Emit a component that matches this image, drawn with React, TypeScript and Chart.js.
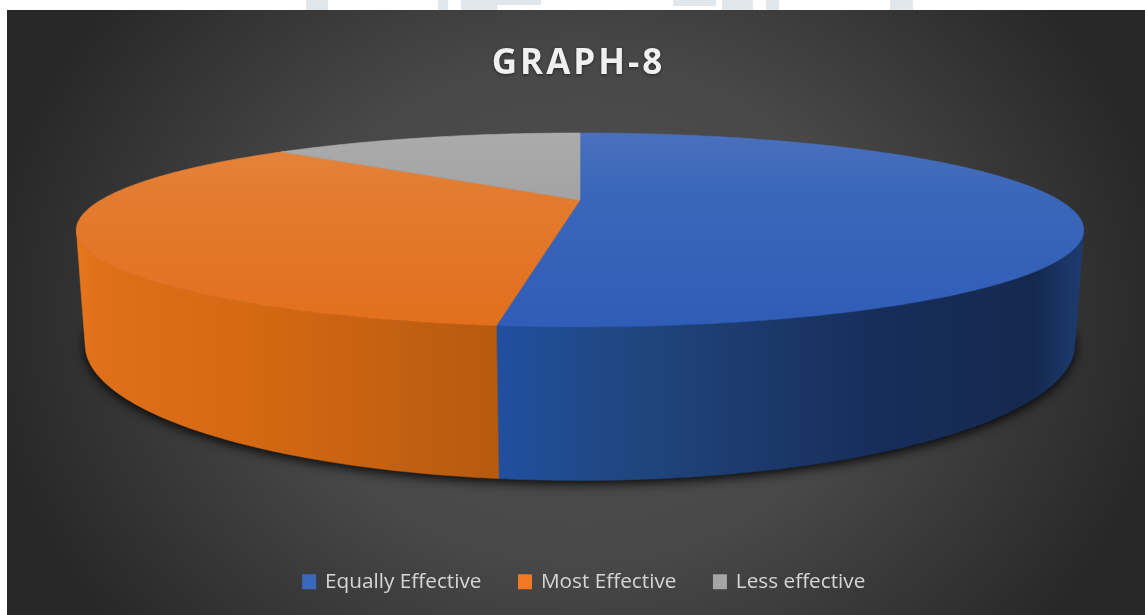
import React, { useEffect, useRef } from "react";
import { Chart, registerables } from "chart.js";

Chart.register(...registerables);

const categories = ["Equally Effective", "Most Effective", "Less effective"];
const shareValues = [51.93, 34.57, 13.5];
const legendColors = ["#3a68bd", "#f07a24", "#a5a5a5"];
const chartTitle = "GRAPH-8";

type Rim = { cx: number; cy: number; a: number; b: number; k: number };
const topRim: Rim = { cx: 580, cy: 200, a: 479, b: 87.7, k: 0.309 };
const bottomRim: Rim = { cx: 580, cy: 304, a: 472, b: 123.5, k: 0.3 };
const visibleFrom = (18 * Math.PI) / 180;
const visibleTo = (162 * Math.PI) / 180;

// faint page watermark poking out above the panel: x, width, height
const watermarkBits = [
  [306, 22, 10],
  [438, 10, 10],
  [461, 36, 10],
  [497, 44, 5],
  [673, 43, 6],
  [722, 31, 10],
  [766, 13, 10],
  [890, 23, 10],
];

function project(r: Rim, angle: number): [number, number] {
  const u = Math.cos(angle);
  const v = Math.sin(angle);
  const w = 1 - r.k * v;
  return [r.cx + (r.a * u) / w, r.cy + (r.b * v) / w];
}

function traceRim(ctx: CanvasRenderingContext2D, r: Rim, from: number, to: number, move: boolean) {
  const n = Math.max(4, Math.ceil(Math.abs(to - from) * 60));
  for (let i = 0; i <= n; i++) {
    const [x, y] = project(r, from + ((to - from) * i) / n);
    if (i === 0 && move) ctx.moveTo(x, y);
    else ctx.lineTo(x, y);
  }
}

const topShades = [
  ["#4a70bd", "#3b67ba", "#2f5db7"],
  ["#e5863f", "#e37c30", "#e26f1c"],
  ["#ababab", "#a4a4a4", "#9c9c9c"],
];

function wallGradient(ctx: CanvasRenderingContext2D, i: number) {
  const g = ctx.createLinearGradient(76, 0, 1084, 0);
  if (i === 1) {
    g.addColorStop(0, "#e8761c");
    g.addColorStop(0.02, "#e0701a");
    g.addColorStop(0.2, "#d26712");
    g.addColorStop(0.42, "#b65a10");
  } else {
    g.addColorStop(0.42, "#214f9f");
    g.addColorStop(0.55, "#20467f");
    g.addColorStop(0.8, "#172d5a");
    g.addColorStop(0.95, "#15294f");
    g.addColorStop(1, "#1e3c72");
  }
  return g;
}

const piePlugin = {
  id: "tiltedPie",
  beforeDraw(chart: any) {
    const ctx: CanvasRenderingContext2D = chart.ctx;
    ctx.save();
    ctx.fillStyle = "#ffffff";
    ctx.fillRect(0, 0, 1145, 615);
    ctx.fillStyle = "#e2e7eb";
    watermarkBits.forEach(([x, w, h]) => ctx.fillRect(x, 0, w, h));
    ctx.beginPath();
    ctx.rect(7, 10, 1138, 605);
    ctx.clip();
    ctx.translate(578, 312);
    ctx.scale(1, 0.85);
    const g = ctx.createRadialGradient(0, 0, 0, 0, 0, 590);
    g.addColorStop(0, "#505050");
    g.addColorStop(0.5, "#484848");
    g.addColorStop(1, "#282828");
    ctx.fillStyle = g;
    ctx.fillRect(-700, -700, 1400, 1400);
    ctx.restore();
  },
  afterLayout(chart: any) {
    const t = chart.titleBlock;
    if (t && !t.__spaced) {
      t.__spaced = true;
      const original = t.draw;
      t.draw = function () {
        const ctx: any = chart.ctx;
        ctx.save();
        ctx.translate(-6, 0);
        ctx.letterSpacing = "3px";
        ctx.shadowColor = "rgba(0,0,0,0.5)";
        ctx.shadowBlur = 3;
        ctx.shadowOffsetY = 1;
        original.call(t);
        ctx.restore();
      };
    }
  },
  beforeDatasetsDraw(chart: any) {
    const ctx: CanvasRenderingContext2D = chart.ctx;
    const arcs = chart.getDatasetMeta(0).data;
    ctx.save();

    ctx.save();
    ctx.shadowColor = "rgba(0,0,0,0.95)";
    ctx.shadowBlur = 12;
    ctx.shadowOffsetY = 3;
    ctx.fillStyle = "#000";
    ctx.beginPath();
    traceRim(ctx, bottomRim, 0, Math.PI * 2, true);
    ctx.closePath();
    ctx.fill();
    ctx.restore();

    arcs.forEach((arc: any, i: number) => {
      const from = Math.max(arc.startAngle, visibleFrom);
      const to = Math.min(arc.endAngle, visibleTo);
      if (to <= from) return;
      const g = wallGradient(ctx, i);
      ctx.fillStyle = g;
      ctx.strokeStyle = g;
      ctx.lineWidth = 0.6;
      ctx.beginPath();
      traceRim(ctx, topRim, from, to, true);
      traceRim(ctx, bottomRim, to, from, false);
      ctx.closePath();
      ctx.fill();
      ctx.stroke();
    });

    arcs.forEach((arc: any, i: number) => {
      const g = ctx.createLinearGradient(0, 133, 0, 327);
      g.addColorStop(0, topShades[i][0]);
      g.addColorStop(0.3, topShades[i][1]);
      g.addColorStop(1, topShades[i][2]);
      ctx.fillStyle = g;
      ctx.strokeStyle = g;
      ctx.lineWidth = 0.6;
      ctx.beginPath();
      ctx.moveTo(topRim.cx, topRim.cy);
      traceRim(ctx, topRim, arc.startAngle, arc.endAngle, false);
      ctx.closePath();
      ctx.fill();
      ctx.stroke();
    });
    ctx.restore();
    return false;
  },
};

export default function App() {
  const ref = useRef<HTMLCanvasElement>(null);
  useEffect(() => {
    document.body.style.margin = "0";
    document.body.style.background = "#fff";
    const chart = new Chart(ref.current!, {
      type: "pie",
      data: {
        labels: categories,
        datasets: [{ data: shareValues, backgroundColor: legendColors, borderWidth: 0 }],
      },
      plugins: [piePlugin],
      options: {
        animation: false,
        responsive: false,
        layout: { padding: { left: 24, right: 0, top: 43, bottom: 13 } },
        plugins: {
          tooltip: { enabled: false },
          title: {
            display: true,
            text: chartTitle,
            color: "#f0f0f0",
            font: { family: "'Open Sans'", size: 35, weight: "bold" },
            padding: { top: 0, bottom: 10 },
          },
          legend: {
            display: true,
            position: "bottom",
            labels: {
              color: "#d6d6d6",
              boxWidth: 11,
              boxHeight: 12,
              padding: 38,
              font: { family: "'Open Sans'", size: 20.75 },
              generateLabels: () =>
                categories.map((text, i) => ({
                  text,
                  index: i,
                  fillStyle: legendColors[i],
                  strokeStyle: legendColors[i],
                  fontColor: "#d6d6d6",
                  lineWidth: 3,
                  hidden: false,
                })),
            },
          },
        },
      },
    } as any);
    return () => chart.destroy();
  }, []);
  return <canvas ref={ref} width={1145} height={615} style={{ display: "block" }} />;
}
